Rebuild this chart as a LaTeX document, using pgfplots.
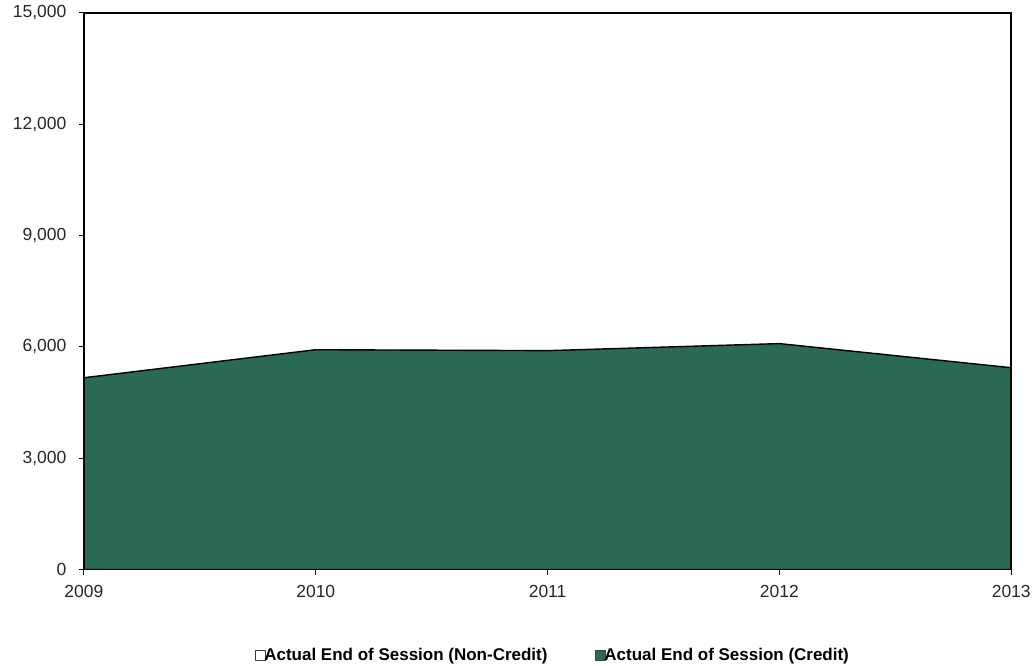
\documentclass[border=0pt]{standalone}
\usepackage{pgfplots}
\pgfplotsset{compat=1.18}
\usepackage{fontspec}
\setmainfont{Liberation Sans}
\definecolor{creditgreen}{RGB}{42,106,82}
\begin{document}
\begin{tikzpicture}
\begin{axis}[
  scale only axis,
  width=928pt, height=557pt,
  xmin=2009, xmax=2013,
  ymin=0, ymax=15000,
  scaled y ticks=false,
  xtick={2009,2010,2011,2012,2013},
  xticklabels={2009,2010,2011,2012,2013},
  ytick={0,3000,6000,9000,12000,15000},
  yticklabels={0,{3,000},{6,000},{9,000},{12,000},{15,000}},
  xtick pos=bottom, ytick pos=left,
  tick align=outside,
  major tick length=5pt,
  tick style={black, line width=1pt},
  axis line style={black, line width=1.6pt},
  axis on top,
  ticklabel style={font=\fontsize{17.5}{20}\selectfont, text=black!85},
  xticklabel style={yshift=-7pt},
  yticklabel style={xshift=-9pt},
  legend style={
    at={(0.506,-0.154)}, anchor=center,
    draw=none, fill=none,
    legend columns=2,
    font=\bfseries\fontsize{17}{19}\selectfont,
    /tikz/every even column/.append style={column sep=46pt},
    legend cell align=left,
    inner sep=0pt,
  },
  legend image code/.code={
    \draw[#1, draw=black!75, line width=1pt] (0pt,-5pt) rectangle (10pt,5pt);
  },
  clip=true,
]
\addlegendimage{fill=white}
\addlegendentry{\hspace{-4pt}Actual End of Session (Non-Credit)}
\addplot[fill=creditgreen, draw=black, line width=1.4pt, forget plot] coordinates {
  (2009,5170) (2010,5925) (2011,5900) (2012,6090) (2013,5440)
} \closedcycle;
\addlegendimage{fill=creditgreen}
\addlegendentry{\hspace{-4pt}Actual End of Session (Credit)}
\coordinate (sw) at (rel axis cs:0,0);
\coordinate (ne) at (rel axis cs:1,1);
\end{axis}
\useasboundingbox ([shift={(-84pt,-96pt)}]sw) rectangle ([shift={(22pt,13pt)}]ne);
\end{tikzpicture}
\end{document}
